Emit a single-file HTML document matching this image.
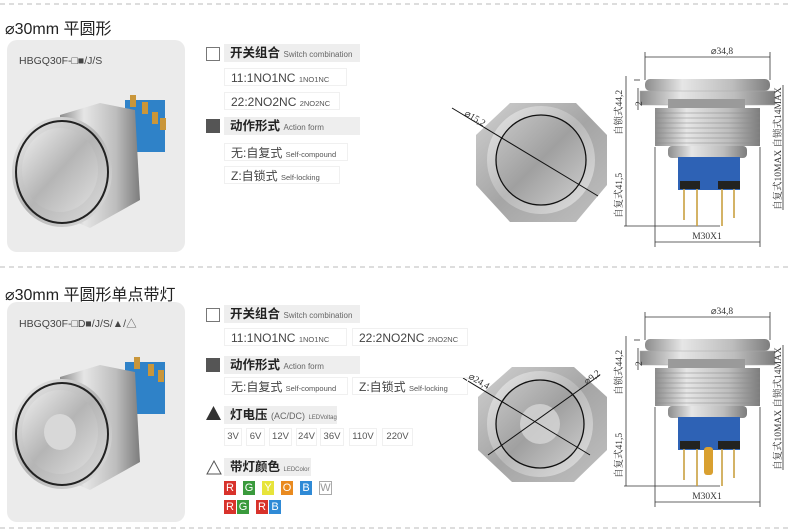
<!DOCTYPE html>
<html><head><meta charset="utf-8">
<style>
body{margin:0;width:790px;height:532px;background:#fff;position:relative;overflow:hidden;font-family:"Liberation Sans","Noto Sans CJK SC",sans-serif;color:#333}
.a{position:absolute;white-space:nowrap}
.t{font-size:16px;color:#222}
.lab{position:absolute;background:#eeeeee;height:18px;line-height:18px;font-size:12.5px;font-weight:bold;color:#222;padding-left:6px;white-space:nowrap;overflow:hidden}
.lab small{font-weight:normal;font-size:8px;color:#666}
.it{position:absolute;border:1px solid #f0f0f0;height:18px;line-height:18px;font-size:12px;color:#444;padding-left:6px;box-sizing:border-box;white-space:nowrap}
.it small{font-size:7.5px;color:#555}
.v{position:absolute;border:1px solid #f0f0f0;height:18px;line-height:16px;font-size:9.5px;color:#555;text-align:center;box-sizing:border-box}
.c{position:absolute;height:14px;line-height:14px;font-size:11px;color:#fff;text-align:center;width:12px}
.dim{font-family:"Liberation Serif","Noto Serif CJK SC",serif;font-size:9.5px;fill:#333}
</style></head><body>
<svg width="790" height="532" style="position:absolute;left:0;top:0">
<defs>
<linearGradient id="m" x1="0" y1="0" x2="1" y2="1"><stop offset="0" stop-color="#d0d0d0"/><stop offset=".5" stop-color="#a5a5a5"/><stop offset="1" stop-color="#c0c0c0"/></linearGradient>
<linearGradient id="mv" x1="0" y1="0" x2="1" y2="0"><stop offset="0" stop-color="#8c8c8c"/><stop offset=".3" stop-color="#e6e6e6"/><stop offset=".7" stop-color="#bdbdbd"/><stop offset="1" stop-color="#7d7d7d"/></linearGradient>
<linearGradient id="rim" x1="0" y1="0" x2="1" y2="1"><stop offset="0" stop-color="#e8e8e8"/><stop offset=".5" stop-color="#b8b8b8"/><stop offset="1" stop-color="#e0e0e0"/></linearGradient>
<linearGradient id="f" x1="0" y1="0" x2="1" y2="1"><stop offset="0" stop-color="#c8c8c8"/><stop offset=".5" stop-color="#a0a0a0"/><stop offset="1" stop-color="#cfcfcf"/></linearGradient>
<linearGradient id="pf" x1="0" y1="0" x2="1" y2="1"><stop offset="0" stop-color="#f0f0f0"/><stop offset=".5" stop-color="#b5b5b5"/><stop offset="1" stop-color="#e0e0e0"/></linearGradient>
</defs>
<line x1="0" y1="4" x2="790" y2="4" stroke="#bbb" stroke-dasharray="5,4"/>
<line x1="0" y1="267" x2="790" y2="267" stroke="#bbb" stroke-dasharray="5,4"/>
<line x1="0" y1="528" x2="790" y2="528" stroke="#bbb" stroke-dasharray="5,4"/>
<rect x="7" y="40" width="178" height="212" rx="10" fill="#ebebeb"/>
<rect x="7" y="302" width="178" height="220" rx="10" fill="#ebebeb"/>
<g>
<rect x="125" y="100" width="40" height="52" fill="#2f82c8"/>
<rect x="130" y="95" width="6" height="12" fill="#c9963a"/><rect x="142" y="102" width="6" height="12" fill="#c9963a"/><rect x="152" y="112" width="6" height="12" fill="#c9963a"/><rect x="160" y="118" width="6" height="12" fill="#c9963a"/>
<path d="M60 115 L100 103 L135 110 L140 200 L90 228 L60 215Z" fill="url(#mv)"/>
<ellipse cx="62" cy="172" rx="50" ry="55" fill="url(#pf)"/>
<ellipse cx="62" cy="172" rx="46" ry="51" fill="none" stroke="#222" stroke-width="2"/>
<ellipse cx="60" cy="170" rx="38" ry="42" fill="url(#pf)"/>
</g>
<g transform="translate(0,262)">
<rect x="125" y="100" width="40" height="52" fill="#2f82c8"/>
<rect x="134" y="95" width="6" height="12" fill="#c9963a"/><rect x="148" y="102" width="6" height="12" fill="#c9963a"/><rect x="158" y="108" width="6" height="12" fill="#c9963a"/>
<path d="M60 115 L100 103 L135 110 L140 200 L90 228 L60 215Z" fill="url(#mv)"/>
<ellipse cx="62" cy="172" rx="50" ry="55" fill="url(#pf)"/>
<ellipse cx="62" cy="172" rx="46" ry="51" fill="none" stroke="#222" stroke-width="2"/>
<ellipse cx="60" cy="170" rx="38" ry="42" fill="url(#pf)"/>
<ellipse cx="60" cy="170" rx="16" ry="18" fill="#d8d8d8"/>
</g>
<polygon points="510,103 576,103 607,135 607,185 576,222 510,222 476,185 476,135" fill="url(#m)"/>
<circle cx="541" cy="160" r="54" fill="url(#rim)"/>
<circle cx="541" cy="160" r="45" fill="url(#f)" stroke="#111" stroke-width="1.3"/>
<line x1="452" y1="108" x2="598" y2="196" stroke="#111"/>
<text class="dim" transform="translate(464,115) rotate(31)">⌀15,2</text>
<polygon points="512,367 574,367 607,397 607,450 574,482 512,482 478,450 478,397" fill="url(#m)"/>
<circle cx="540" cy="424" r="53" fill="url(#rim)"/>
<circle cx="540" cy="424" r="44" fill="url(#f)" stroke="#111" stroke-width="1.3"/>
<circle cx="540" cy="424" r="20" fill="#d6d6d6" opacity=".8"/>
<line x1="463" y1="378" x2="590" y2="455" stroke="#111"/>
<line x1="488" y1="455" x2="600" y2="375" stroke="#111"/>
<text class="dim" transform="translate(468,378) rotate(31)">⌀24,4</text>
<text class="dim" transform="translate(587,385) rotate(-38)">⌀9,2</text>
<g id="sv">
<line x1="645" y1="57" x2="770" y2="57" stroke="#333" stroke-width=".8"/>
<line x1="645" y1="52" x2="645" y2="80" stroke="#333" stroke-width=".8"/><line x1="770" y1="52" x2="770" y2="80" stroke="#333" stroke-width=".8"/>
<text class="dim" x="722" y="54" text-anchor="middle">⌀34,8</text>
<rect x="645" y="79" width="125" height="12" rx="5" fill="url(#mv)"/>
<rect x="640" y="91" width="135" height="14" fill="url(#mv)" stroke="#aaa" stroke-width=".5"/>
<rect x="668" y="99" width="77" height="10" fill="#9a9a9a"/>
<rect x="655" y="108" width="105" height="38" fill="url(#mv)"/>
<g stroke="#888" stroke-width=".6"><line x1="655" y1="113" x2="760" y2="113"/><line x1="655" y1="118" x2="760" y2="118"/><line x1="655" y1="123" x2="760" y2="123"/><line x1="655" y1="128" x2="760" y2="128"/><line x1="655" y1="133" x2="760" y2="133"/><line x1="655" y1="138" x2="760" y2="138"/><line x1="655" y1="143" x2="760" y2="143"/></g>
<rect x="668" y="146" width="79" height="12" rx="4" fill="url(#mv)"/>
<rect x="678" y="157" width="62" height="33" fill="#2e62b5"/>
<rect x="680" y="181" width="20" height="8" fill="#222"/><rect x="718" y="181" width="22" height="8" fill="#222"/>
<line x1="626" y1="76" x2="626" y2="226" stroke="#333" stroke-width=".8"/>
<line x1="624" y1="226" x2="720" y2="226" stroke="#333" stroke-width=".8"/>
<line x1="634" y1="80" x2="640" y2="80" stroke="#333" stroke-width=".8"/>
<line x1="638" y1="88" x2="638" y2="110" stroke="#333" stroke-width=".8"/>
<text class="dim" transform="translate(622,135) rotate(-90)">自锁式44,2</text>
<text class="dim" transform="translate(622,218) rotate(-90)">自复式41,5</text>
<text class="dim" transform="translate(642,106) rotate(-90)">2</text>
<line x1="655" y1="147" x2="655" y2="247" stroke="#333" stroke-width=".8"/><line x1="760" y1="147" x2="760" y2="247" stroke="#333" stroke-width=".8"/>
<line x1="655" y1="242" x2="760" y2="242" stroke="#333" stroke-width=".8"/>
<text class="dim" x="707" y="239" text-anchor="middle">M30X1</text>
<line x1="783" y1="85" x2="783" y2="210" stroke="#333" stroke-width=".8"/>
<text class="dim" transform="translate(781,210) rotate(-90)">自复式10MAX  自锁式14MAX</text>
</g>
<g stroke="#c9a040" stroke-width="1.6"><line x1="684" y1="189" x2="684" y2="220"/><line x1="697" y1="189" x2="697" y2="226"/><line x1="722" y1="189" x2="722" y2="226"/><line x1="734" y1="189" x2="734" y2="218"/></g>
<use href="#sv" transform="translate(0,260)"/>
<g stroke="#c9a040" stroke-width="1.6"><line x1="684" y1="449" x2="684" y2="480"/><line x1="697" y1="449" x2="697" y2="486"/><line x1="722" y1="449" x2="722" y2="486"/><line x1="734" y1="449" x2="734" y2="478"/></g>
<rect x="704" y="447" width="9" height="28" rx="3" fill="#d9a030"/>
<rect x="206.5" y="47.5" width="13" height="13" fill="#fff" stroke="#777"/>
<rect x="206" y="119" width="14" height="14" fill="#555"/>
<rect x="206.5" y="308.5" width="13" height="13" fill="#fff" stroke="#777"/>
<rect x="206" y="358" width="14" height="14" fill="#555"/>
<polygon points="206,420 213.5,406 221,420" fill="#333"/>
<polygon points="207,474 214,461 221,474" fill="#fff" stroke="#555"/>
</svg>
<div class="a t" style="left:5px;top:15px">⌀30mm 平圆形</div>
<div class="a" style="left:19px;top:55px;font-size:10.5px;color:#444">HBGQ30F-□■/J/S</div>
<div class="lab" style="left:224px;top:44px;width:130px">开关组合 <small>Switch combination</small></div>
<div class="it" style="left:224px;top:68px;width:123px">11:1NO1NC <small>1NO1NC</small></div>
<div class="it" style="left:224px;top:92px;width:116px">22:2NO2NC <small>2NO2NC</small></div>
<div class="lab" style="left:224px;top:117px;width:130px">动作形式 <small>Action form</small></div>
<div class="it" style="left:224px;top:143px;width:124px">无:自复式 <small>Self-compound</small></div>
<div class="it" style="left:224px;top:166px;width:116px">Z:自锁式 <small>Self-locking</small></div>

<div class="a t" style="left:5px;top:281px">⌀30mm 平圆形单点带灯</div>
<div class="a" style="left:19px;top:316px;font-size:10.5px;color:#444">HBGQ30F-□D■/J/S/▲/△</div>
<div class="lab" style="left:224px;top:305px;width:130px">开关组合 <small>Switch combination</small></div>
<div class="it" style="left:224px;top:328px;width:123px">11:1NO1NC <small>1NO1NC</small></div>
<div class="it" style="left:352px;top:328px;width:116px">22:2NO2NC <small>2NO2NC</small></div>
<div class="lab" style="left:224px;top:356px;width:130px">动作形式 <small>Action form</small></div>
<div class="it" style="left:224px;top:377px;width:124px">无:自复式 <small>Self-compound</small></div>
<div class="it" style="left:352px;top:377px;width:116px">Z:自锁式 <small>Self-locking</small></div>
<div class="lab" style="left:224px;top:406px;width:107px">灯电压 <span style="font-weight:normal;font-size:9px;color:#666">(AC/DC)</span> <small style="font-size:6px">LEDVoltage</small></div>
<div class="v" style="left:224px;top:428px;width:18px">3V</div>
<div class="v" style="left:246px;top:428px;width:19px">6V</div>
<div class="v" style="left:269px;top:428px;width:23px">12V</div>
<div class="v" style="left:296px;top:428px;width:21px">24V</div>
<div class="v" style="left:320px;top:428px;width:24px">36V</div>
<div class="v" style="left:349px;top:428px;width:28px">110V</div>
<div class="v" style="left:382px;top:428px;width:31px">220V</div>
<div class="lab" style="left:224px;top:458px;width:81px">带灯颜色 <small style="font-size:6px">LEDColor</small></div>
<div class="c" style="left:224px;top:481px;background:#d8322b">R</div>
<div class="c" style="left:243px;top:481px;background:#3a9a3c">G</div>
<div class="c" style="left:262px;top:481px;background:#e7e43a">Y</div>
<div class="c" style="left:281px;top:481px;background:#e98a1f">O</div>
<div class="c" style="left:300px;top:481px;background:#2f8ad6">B</div>
<div class="c" style="left:319px;top:481px;background:#fff;color:#999;border:1px solid #aaa;height:12px;line-height:12px;width:11px">W</div>
<div class="c" style="left:224px;top:500px;background:#d8322b">R</div>
<div class="c" style="left:237px;top:500px;background:#3a9a3c">G</div>
<div class="c" style="left:256px;top:500px;background:#d8322b">R</div>
<div class="c" style="left:269px;top:500px;background:#2f8ad6">B</div>
</body></html>
